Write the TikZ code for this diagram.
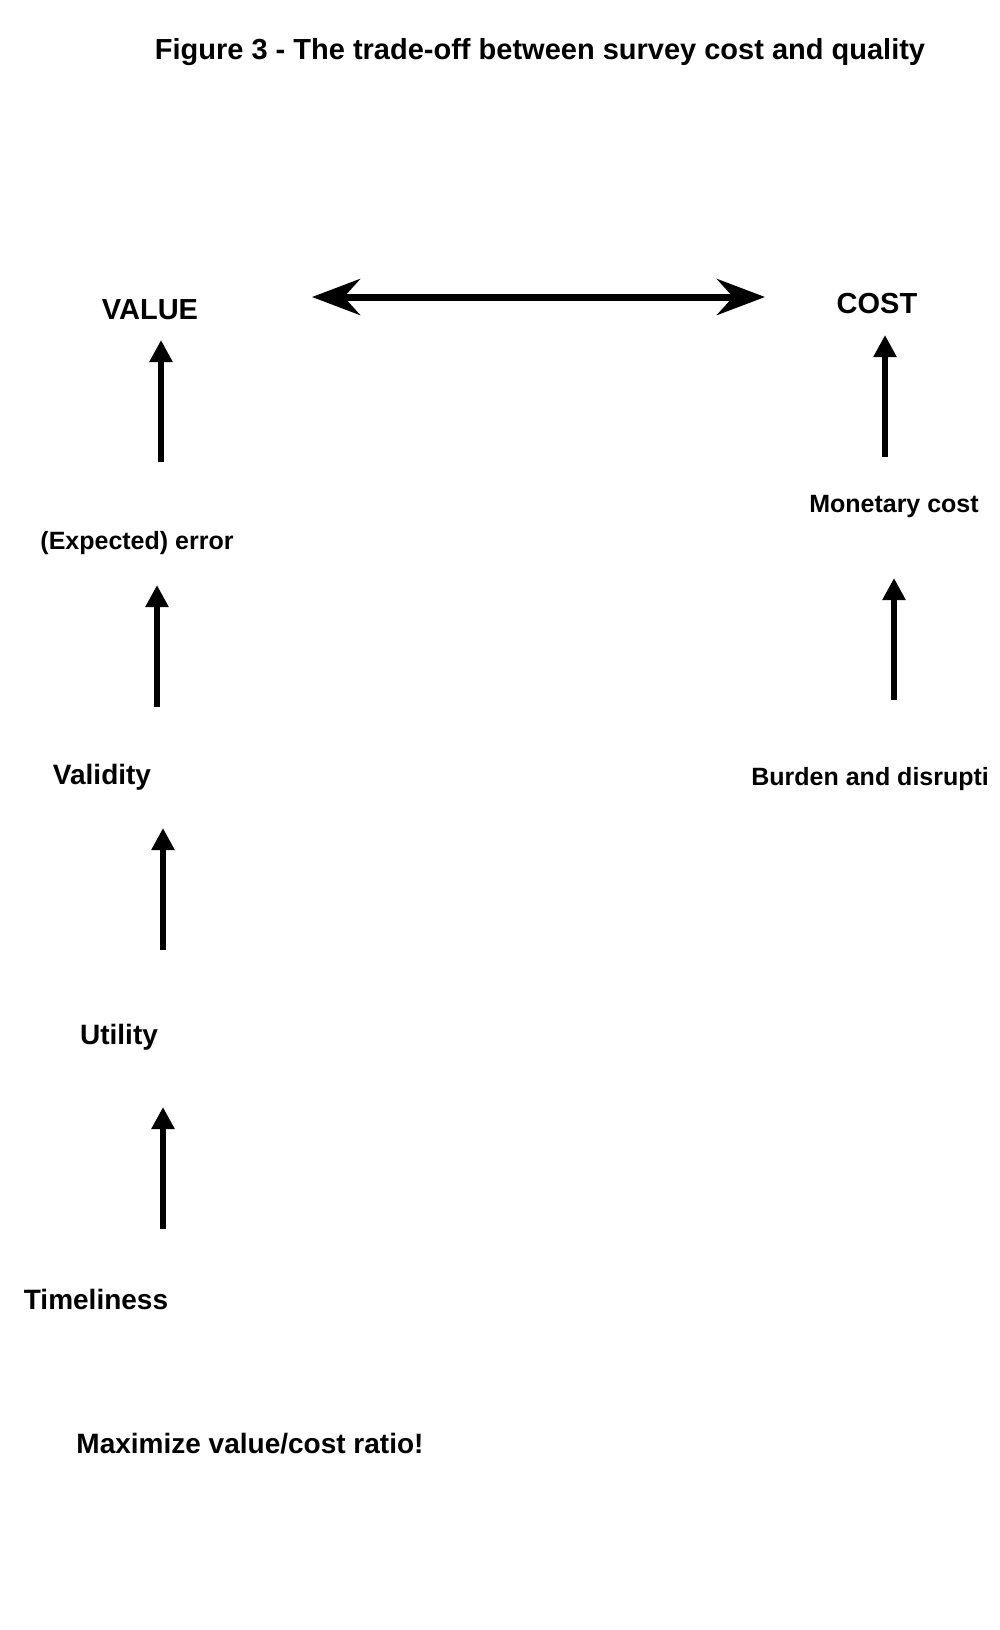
\documentclass[tikz,border=0pt]{standalone}
\usepackage{fontspec}
\setmainfont{Liberation Sans}
\usetikzlibrary{arrows.meta}
\begin{document}
\begin{tikzpicture}[x=0.5pt,y=-0.5pt,
 lbl/.style={font=\bfseries\fontsize{12.5}{14}\selectfont,inner sep=0pt},
 big/.style={font=\bfseries\fontsize{14.5}{16}\selectfont,inner sep=0pt},
 up/.style={line width=3pt,-{Triangle[length=11pt,width=11pt]}},
 dbl/.style={line width=3.5pt,{Stealth[length=24pt,width=18pt,inset=8pt]}-{Stealth[length=24pt,width=18pt,inset=8pt]}}]
\useasboundingbox (0,0) rectangle (1000,1630);
\clip (0,0) rectangle (1000,1630);
\node[big] (title) at (540,52) {Figure 3 - The trade-off between survey cost and quality};
\node[big] (value) at (150,310) {VALUE};
\node[big] (cost) at (877,304) {COST};
\coordinate (dl) at (312,297); \coordinate (dr) at (765,297);
\draw[dbl] (dl) -- (dr);
\node[lbl] (err) at (137,543) {(Expected) error};
\node[lbl,font=\bfseries\fontsize{14}{16}\selectfont] (val) at (102,777) {Validity};
\node[lbl,font=\bfseries\fontsize{14}{16}\selectfont] (util) at (119,1037) {Utility};
\node[lbl,font=\bfseries\fontsize{14}{16}\selectfont] (time) at (96,1299) {Timeliness};
\node[lbl,font=\bfseries\fontsize{14}{16}\selectfont] (max) at (250,1444) {Maximize value/cost ratio!};
\node[lbl] (mon) at (894,506) {Monetary cost};
\node[lbl,anchor=west] (bur) at (751,779) {Burden and disrupti};
\coordinate (a1s) at (161,462); \coordinate (a1e) at (161,340);
\coordinate (a2s) at (157,707); \coordinate (a2e) at (157,585);
\coordinate (a3s) at (163,950); \coordinate (a3e) at (163,828);
\coordinate (a4s) at (163,1229); \coordinate (a4e) at (163,1107);
\coordinate (b1s) at (885,457); \coordinate (b1e) at (885,335);
\coordinate (b2s) at (894,700); \coordinate (b2e) at (894,578);
\draw[up] (a1s) -- (a1e);
\draw[up] (a2s) -- (a2e);
\draw[up] (a3s) -- (a3e);
\draw[up] (a4s) -- (a4e);
\draw[up] (b1s) -- (b1e);
\draw[up] (b2s) -- (b2e);
\end{tikzpicture}
\end{document}
